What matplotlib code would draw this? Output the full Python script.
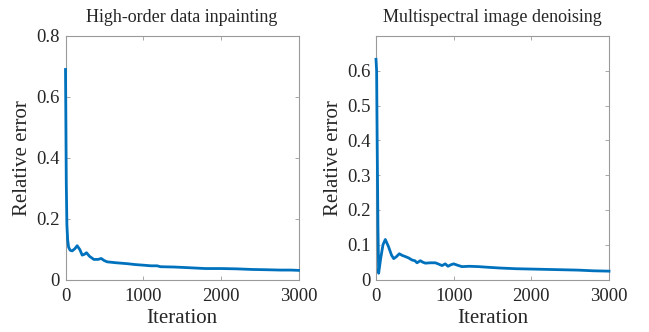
import matplotlib
matplotlib.use("Agg")
import matplotlib.pyplot as plt

# Data
left_iter = [0, 4, 10, 18, 28, 40, 60, 86, 120, 150, 185, 215, 245, 270, 310, 365,
             420, 460, 500, 537, 650, 794, 900, 1004, 1100, 1180, 1223, 1400, 1566,
             1800, 2000, 2200, 2400, 2600, 2768, 2900, 3000]
left_err = [0.69, 0.55, 0.32, 0.18, 0.13, 0.106, 0.096, 0.094, 0.101, 0.111, 0.098, 0.080,
            0.083, 0.088, 0.076, 0.066, 0.066, 0.069, 0.062, 0.058, 0.055, 0.052, 0.049,
            0.047, 0.045, 0.045, 0.042, 0.041, 0.039, 0.036, 0.036, 0.035, 0.033, 0.032,
            0.031, 0.031, 0.030]

right_iter = [0, 8, 15, 25, 34, 60, 90, 120, 160, 200, 228, 260, 300, 340, 377, 420,
              464, 500, 528, 571, 600, 635, 700, 764, 810, 850, 892, 927, 960, 1000,
              1050, 1107, 1200, 1322, 1450, 1596, 1800, 2000, 2200, 2400, 2600, 2800, 3000]
right_err = [0.633, 0.60, 0.40, 0.15, 0.018, 0.06, 0.10, 0.115, 0.095, 0.070, 0.060, 0.065,
             0.074, 0.069, 0.066, 0.062, 0.056, 0.054, 0.048, 0.054, 0.050, 0.047, 0.048,
             0.048, 0.044, 0.040, 0.045, 0.038, 0.042, 0.045, 0.041, 0.037, 0.038, 0.037,
             0.035, 0.033, 0.031, 0.030, 0.029, 0.028, 0.027, 0.025, 0.024]

titles = ["High-order data inpainting", "Multispectral image denoising"]
xticks = [0, 1000, 2000, 3000]
left_yticks = [0, 0.2, 0.4, 0.6, 0.8]
left_yticklabels = ["0", "0.2", "0.4", "0.6", "0.8"]
right_yticks = [0, 0.1, 0.2, 0.3, 0.4, 0.5, 0.6]
right_yticklabels = ["0", "0.1", "0.2", "0.3", "0.4", "0.5", "0.6"]

plt.rcParams['font.family'] = ['Liberation Serif', 'DejaVu Serif']
txt = '#262626'
spine = '#9a9a9a'
blue = '#0072BD'

fig = plt.figure(figsize=(6.49, 3.32), dpi=100)
W, H = 649, 332
def rect(l, t, r, b):
    return [l / W, (H - b) / H, (r - l) / W, (b - t) / H]

ax1 = fig.add_axes(rect(65.5, 36, 298.5, 279.5))
ax2 = fig.add_axes(rect(376, 36, 609, 279.5))

configs = [
    (ax1, left_iter, left_err, (0, 0.8), left_yticks, left_yticklabels, titles[0]),
    (ax2, right_iter, right_err, (0, 0.7), right_yticks, right_yticklabels, titles[1]),
]
for ax, xs, ys, ylim, yt, ytl, title in configs:
    ax.plot(xs, ys, color=blue, linewidth=2, clip_on=False, zorder=5)
    ax.set_xlim(0, 3000)
    ax.set_ylim(*ylim)
    ax.set_xticks(xticks)
    ax.set_xticklabels([str(v) for v in xticks])
    ax.set_yticks(yt)
    ax.set_yticklabels(ytl)
    ax.tick_params(axis='x', pad=6)
    ax.tick_params(axis='y', pad=4)
    ax.tick_params(direction='in', length=3, width=0.6, color=spine, labelcolor=txt,
                   labelsize=13.5, top=True, right=True)
    for s in ax.spines.values():
        s.set_color(spine)
        s.set_linewidth(0.8)
    ax.set_xlabel("Iteration", fontsize=15, color=txt, labelpad=3)
    ax.set_ylabel("Relative error", fontsize=15, color=txt, labelpad=3)
    ax.set_title(title, fontsize=13, color=txt, pad=10)

fig.savefig("out.png", dpi=100)
